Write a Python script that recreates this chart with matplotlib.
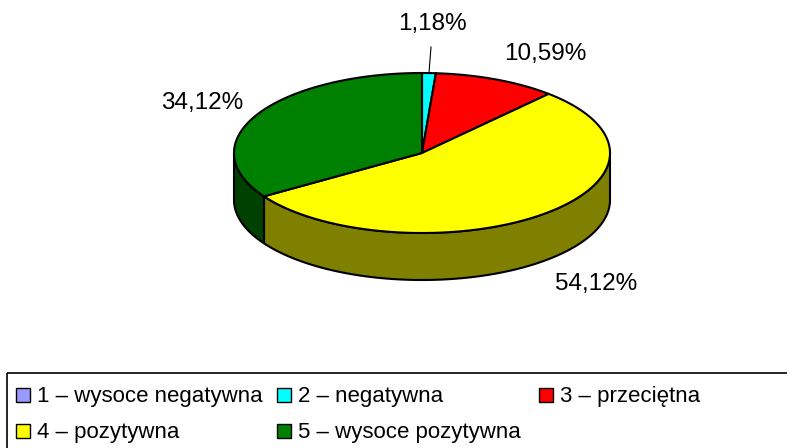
import numpy as np
import matplotlib.pyplot as plt
from matplotlib.patches import Polygon, Rectangle

# data
categories = ['1 – wysoce negatywna', '2 – negatywna', '3 – przeciętna',
              '4 – pozytywna', '5 – wysoce pozytywna']
shares = [0.0, 1.18, 10.59, 54.12, 34.12]

top_colors = ['#9999FF', '#00FFFF', '#FF0000', '#FFFF00', '#008000']
side_colors = ['#4C4C80', '#008080', '#800000', '#808000', '#004000']

# pie geometry in pixels (figure is 787x448)
cx, cy, rx, ry, depth = 422, 153, 188, 80, 47
label_pos = [None, (432, 24), (545, 54), (596, 284), (202, 103)]

plt.rcParams['font.family'] = ['Liberation Sans', 'DejaVu Sans']

fig = plt.figure(figsize=(7.87, 4.48), dpi=100)
ax = fig.add_axes([0, 0, 1, 1])
ax.set_xlim(0, 787)
ax.set_ylim(448, 0)
ax.axis('off')


def arc(t0, t1, n=200):
    t = np.linspace(t0, t1, n)
    return cx + rx * np.sin(t), cy - ry * np.cos(t)


fracs = np.array(shares) / np.sum(shares)
bounds = np.concatenate([[0], np.cumsum(fracs)]) * 2 * np.pi

# side walls (front half only)
for i in range(len(shares)):
    lo = max(bounds[i], np.pi / 2)
    hi = min(bounds[i + 1], 3 * np.pi / 2)
    if hi <= lo or fracs[i] == 0:
        continue
    xs, ys = arc(lo, hi)
    pts = np.column_stack([np.concatenate([xs, xs[::-1]]),
                           np.concatenate([ys, ys[::-1] + depth])])
    ax.add_patch(Polygon(pts, closed=True, facecolor=side_colors[i],
                         edgecolor='black', lw=1.5))

# top wedges
for i in range(len(shares)):
    if fracs[i] == 0:
        continue
    xs, ys = arc(bounds[i], bounds[i + 1])
    pts = np.column_stack([np.concatenate([[cx], xs]), np.concatenate([[cy], ys])])
    ax.add_patch(Polygon(pts, closed=True, facecolor=top_colors[i],
                         edgecolor='black', lw=1.5))

# data labels
for i in range(len(shares)):
    if label_pos[i] is None:
        continue
    lx, ly = label_pos[i]
    txt = f'{shares[i]:.2f}'.replace('.', ',') + '%'
    ax.text(lx, ly, txt, ha='center', va='center', fontsize=17.5, color='black')

# leader line for the small slice
mid = (bounds[1] + bounds[2]) / 2
mx, my = arc(mid, mid, 1)
ax.plot([label_pos[1][0] - 1, mx[0]], [label_pos[1][1] + 23, my[0]], color='black', lw=0.8)

# legend
ax.add_patch(Rectangle((7, 373), 800, 120, fill=False, edgecolor='black', lw=1.2))
col_x = [16, 277, 539]
row_y = [402, 438]
for i, lab in enumerate(categories):
    x = col_x[i % 3]
    y = row_y[i // 3]
    ax.add_patch(Rectangle((x, y - 14), 14, 14, facecolor=top_colors[i],
                           edgecolor='black', lw=1.0))
    ax.text(x + 21, y, lab, ha='left', va='baseline', fontsize=16, color='black')

fig.savefig('out.png', dpi=100)
